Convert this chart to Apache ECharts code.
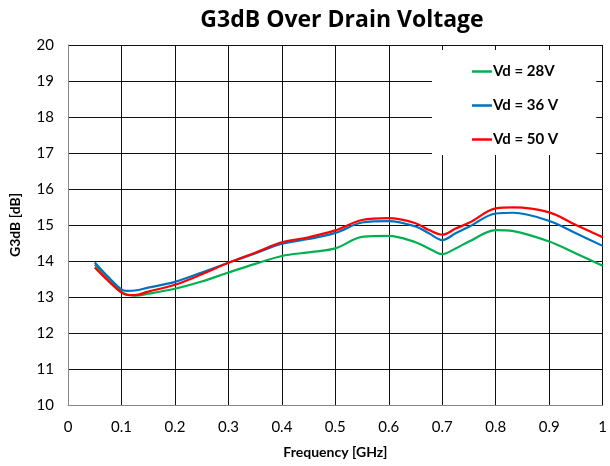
<!DOCTYPE html>
<html><head><meta charset="utf-8">
<script src="https://cdn.jsdelivr.net/npm/echarts@6/dist/echarts.min.js"></script>
<style>html,body{margin:0;padding:0;background:#fff}#c{width:610px;height:466px}</style>
</head><body><div id="c"></div>
<script>
const freq = [0.05, 0.075, 0.1, 0.11, 0.125, 0.15, 0.2, 0.25, 0.3, 0.35, 0.4, 0.45, 0.5, 0.55, 0.6, 0.65, 0.675, 0.7, 0.725, 0.75, 0.8, 0.833, 0.9, 0.95, 1.0];
const vd28 = [13.90, 13.49, 13.14, 13.07, 13.04, 13.09, 13.23, 13.43, 13.68, 13.92, 14.14, 14.24, 14.35, 14.67, 14.70, 14.52, 14.35, 14.19, 14.35, 14.54, 14.86, 14.83, 14.54, 14.21, 13.87];
const vd36 = [13.96, 13.56, 13.21, 13.17, 13.18, 13.26, 13.42, 13.68, 13.95, 14.21, 14.48, 14.61, 14.78, 15.07, 15.11, 14.96, 14.77, 14.58, 14.77, 14.95, 15.32, 15.34, 15.11, 14.77, 14.42];
const vd50 = [13.82, 13.45, 13.12, 13.06, 13.05, 13.15, 13.34, 13.63, 13.95, 14.23, 14.52, 14.66, 14.85, 15.14, 15.19, 15.05, 14.86, 14.73, 14.90, 15.06, 15.46, 15.49, 15.35, 15.00, 14.66];
const seriesNames = ['Vd = 28V', 'Vd = 36 V', 'Vd = 50 V'];
const seriesColors = ['#00B050', '#0070C0', '#FF0000'];
const seriesValues = [vd28, vd36, vd50];

const FONT = 'Lato';
const chart = echarts.init(document.getElementById('c'), null, {renderer: 'canvas'});
chart.setOption({
  animation: false,
  backgroundColor: '#fff',
  title: {
    text: 'G3dB Over Drain Voltage', left: 337, textAlign: 'center', top: 4,
    textStyle: {fontFamily: 'Open Sans', fontWeight: 'bold', fontSize: 23, color: '#000'}
  },
  grid: {left: 65, right: 5, top: 45, bottom: 61},
  legend: {
    orient: 'vertical', left: 432, top: 50,
    padding: [14, 38, 8, 40], itemGap: 19, itemWidth: 20, itemHeight: 14,
    icon: 'path://M0,0L20,0L20,2.5L0,2.5Z',
    backgroundColor: '#fff',
    textStyle: {fontFamily: FONT, fontWeight: 'bold', fontSize: 15, color: '#000', padding: [0, 0, 0, -4]},
    data: seriesNames
  },
  xAxis: {
    type: 'value', min: 0, max: 1, interval: 0.1,
    name: 'Frequency [GHz]', nameLocation: 'middle', nameGap: 40,
    nameTextStyle: {fontFamily: FONT, fontWeight: 'bold', fontSize: 14, color: '#000'},
    axisLine: {show: true, lineStyle: {color: '#888', width: 1}},
    axisTick: {show: false},
    axisLabel: {fontFamily: FONT, fontSize: 15, color: '#000', margin: 15},
    splitLine: {show: true, lineStyle: {color: '#111', width: 1}}
  },
  yAxis: {
    type: 'value', min: 10, max: 20, interval: 1,
    name: 'G3dB [dB]', nameLocation: 'middle', nameGap: 46, nameRotate: 90,
    nameTextStyle: {fontFamily: FONT, fontWeight: 'bold', fontSize: 14, color: '#000'},
    axisLine: {show: true, lineStyle: {color: '#888', width: 1}},
    axisTick: {show: false},
    axisLabel: {fontFamily: FONT, fontSize: 15, color: '#000', margin: 14},
    splitLine: {show: true, lineStyle: {color: '#111', width: 1}}
  },
  series: seriesNames.map((n, i) => ({
    name: n, type: 'line', smooth: 0.35, symbol: 'none', showSymbol: false,
    lineStyle: {color: seriesColors[i], width: 2.2},
    itemStyle: {color: seriesColors[i]},
    data: freq.map((f, j) => [f, seriesValues[i][j]])
  }))
});
</script></body></html>
